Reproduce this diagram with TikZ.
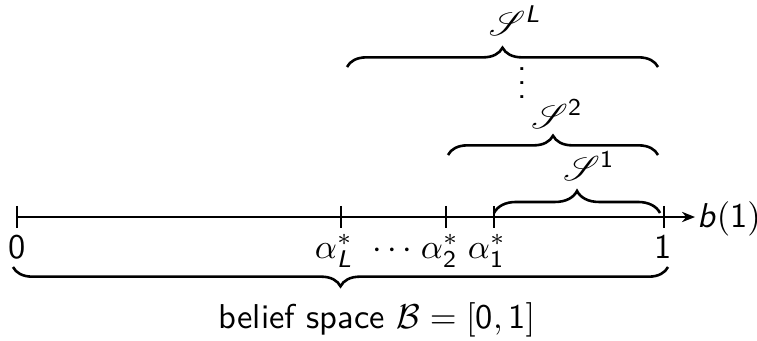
\documentclass[tikz,border=0pt]{standalone}
\usepackage{amsmath}
\usepackage{mathrsfs}
\usetikzlibrary{decorations.pathreplacing,arrows.meta}
\renewcommand\familydefault{\sfdefault}
\newcommand\sfi[1]{\text{\textsf{\textit{#1}}}}
\newcommand\sfn[1]{\text{\textsf{#1}}}
\tikzset{
  brc/.style={decorate,decoration={brace,amplitude=5.6pt},line width=0.75pt},
  tck/.style={line width=0.45pt},
  lbl/.style={inner sep=0pt,anchor=base},
}
\begin{document}
\begin{tikzpicture}[x=0.29pt,y=-0.29pt]
\useasboundingbox (0,0) rectangle (757,340);
% axis points
\coordinate (t0) at (17,217);
\coordinate (tL) at (341,217);
\coordinate (t2) at (446,217);
\coordinate (t1) at (494,217);
\coordinate (tE) at (664,217);
\coordinate (ax) at (695,217);
\draw[tck,-{Stealth[length=3.8pt,width=3pt]}] (t0) -- (ax);
\foreach \p in {t0,tL,t2,t1,tE}{
  \draw[tck] ([yshift=3.2pt]\p) -- ([yshift=-3.2pt]\p);
}
\node[lbl,anchor=base west] (bl) at (697,227) {$\sfi{b}(\sfn{1})$};
% labels
\node[lbl] (l0) at (17,258) {\sfn{0}};
\node[lbl] (lL) at (334,258) {$\alpha^*_{\sfi{L}}$};
\node[lbl] (ld) at (395,258) {$\cdots$};
\node[lbl] (l2) at (440,258) {$\alpha^*_{\sfn{2}}$};
\node[lbl] (l1) at (487,258) {$\alpha^*_{\sfn{1}}$};
\node[lbl] (lE) at (663,258) {\sfn{1}};
% braces above
\coordinate (b1a) at (494,213);
\coordinate (b1b) at (660,213);
\draw[brc,decoration={amplitude=6.4pt}] (b1a) -- (b1b);
\node[lbl] (s1) at (589,180) {$\mathscr{S}^{\sfn{1}}$};
\coordinate (b2a) at (448,155);
\coordinate (b2b) at (658,155);
\draw[brc] (b2a) -- (b2b);
\node[lbl] (s2) at (557,128) {$\mathscr{S}^{\sfn{2}}$};
\coordinate (bLa) at (347,67);
\coordinate (bLb) at (658,67);
\draw[brc] (bLa) -- (bLb);
\node[lbl] (sL) at (515,35) {$\mathscr{S}^{\sfi{L}}$};
\node[lbl] (vd) at (522,98) {$\vdots$};
% bottom brace
\coordinate (bba) at (13,267);
\coordinate (bbb) at (668,267);
\draw[brc,decoration={mirror}] (bba) -- (bbb);
\node[lbl] (bs) at (377,328) {belief space $\mathcal{B}=[\sfn{0},\sfn{1}]$};
\end{tikzpicture}
\end{document}
